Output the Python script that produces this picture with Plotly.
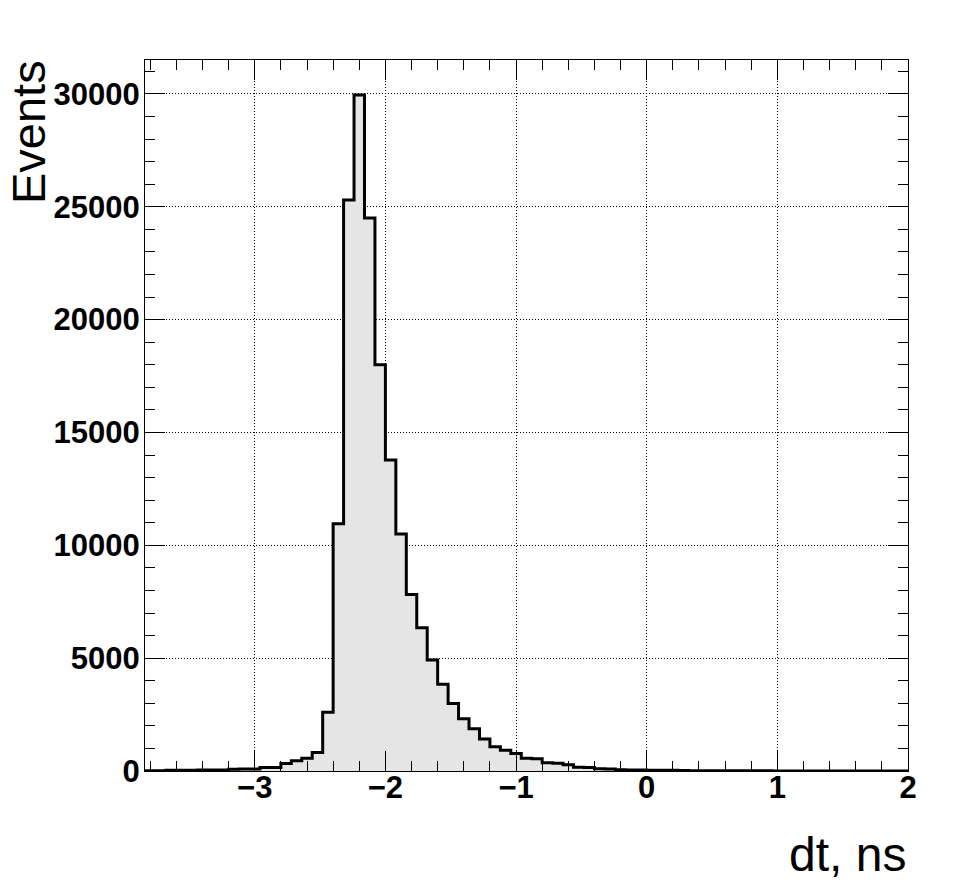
import plotly.graph_objects as go

# ---- data ----
bin_start = -3.84
bin_width = 0.08
counts = [
    15, 15, 35, 35, 35, 40, 40, 45, 80, 85,
    90, 150, 160, 330, 450, 570, 820, 2600, 10950, 25300,
    29950, 24500, 18000, 13780, 10500, 7820, 6350, 4920, 3840, 2990,
    2310, 1870, 1420, 1070, 920, 780, 570, 540, 360, 340,
    280, 170, 150, 95, 85, 50, 45, 40, 38, 35,
    30, 20, 15, 12, 10, 10, 8, 8, 6, 6,
    5, 5, 4, 4, 3, 3, 3, 2, 2, 2,
    2, 1, 1,
]
x_ticks = [-3, -2, -1, 0, 1, 2]
y_ticks = [0, 5000, 10000, 15000, 20000, 25000, 30000]
x_range = [-3.84, 2.0]
y_range = [0, 31500]

edges = [round(bin_start + i * bin_width, 4) for i in range(len(counts) + 1)]
ys = counts + [counts[-1]]

fig = go.Figure()
fig.add_trace(go.Scatter(
    x=edges, y=ys, mode="lines", line_shape="hv",
    line=dict(color="black", width=3),
    fill="tozeroy", fillcolor="#e5e5e5",
    showlegend=False, hoverinfo="skip",
))

tickfont = dict(family="Liberation Sans, Arial, sans-serif", size=31,
                color="black", weight="bold")

fig.update_xaxes(
    range=x_range, tickvals=x_ticks,
    ticktext=[("\u2212" + str(abs(v))) if v < 0 else str(v) for v in x_ticks],
    ticks="inside", ticklen=20, tickwidth=1, tickcolor="black",
    mirror="allticks", showline=True, linecolor="black", linewidth=1,
    showgrid=True, gridcolor="black", griddash="1px,2px", gridwidth=1,
    zeroline=False, tickfont=tickfont, ticklabelstandoff=-11,
    minor=dict(dtick=0.2, tick0=0, ticks="inside", ticklen=10,
               tickcolor="black", tickwidth=1, showgrid=False),
)
fig.update_yaxes(
    range=y_range, tickvals=y_ticks, ticktext=[str(v) for v in y_ticks],
    ticks="inside", ticklen=20, tickwidth=1, tickcolor="black",
    mirror="allticks", showline=True, linecolor="black", linewidth=1,
    showgrid=True, gridcolor="black", griddash="1px,2px", gridwidth=1,
    zeroline=False, tickfont=tickfont, ticklabelstandoff=-2,
    minor=dict(dtick=1000, tick0=0, ticks="inside", ticklen=10,
               tickcolor="black", tickwidth=1, showgrid=False),
)

fig.add_annotation(
    text="Events", textangle=-90, xref="paper", yref="paper",
    x=-0.1533, y=0.8987, xanchor="center", yanchor="middle", showarrow=False,
    font=dict(family="Liberation Sans, Arial, sans-serif", size=47, color="black"),
)
fig.add_annotation(
    text="dt, ns", xref="paper", yref="paper",
    x=1.0, y=-0.118, xanchor="right", yanchor="middle", showarrow=False,
    font=dict(family="Liberation Sans, Arial, sans-serif", size=48, color="black"),
)

fig.update_layout(
    width=954, height=891,
    margin=dict(l=145, r=46, t=60, b=120),
    paper_bgcolor="white", plot_bgcolor="white",
)

fig.write_html("out.html", config={"displayModeBar": False},
               post_script="document.body.style.margin='0';document.body.style.overflow='hidden';")
